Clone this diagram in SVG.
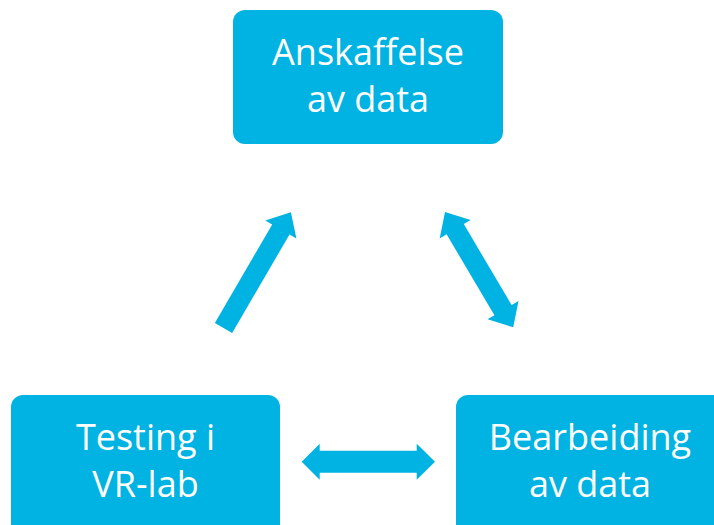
<svg xmlns="http://www.w3.org/2000/svg" width="714" height="525" viewBox="0 0 714 525">
<style>
.box{fill:#00B3E3;}
.arr{fill:#00B3E3;}
text{font-family:"Open Sans","Noto Sans","Liberation Sans",sans-serif;font-size:36px;fill:#ffffff;text-anchor:middle;}
</style>
<rect width="714" height="525" fill="#ffffff"/>
<g id="connectors">
<polygon class="arr" transform="translate(223.5,328) rotate(-59.8)" points="0,-10 114,-10 114,-18 134,0 114,18 114,10 0,10"/>
<polygon class="arr" transform="translate(445,212) rotate(59.4)" points="0,0 20,-18 20,-10 114,-10 114,-18 134,0 114,18 114,10 20,10 20,18"/>
<polygon class="arr" transform="translate(301.7,461.7)" points="0,0 18,-18 18,-11 115,-11 115,-18 133.3,0 115,18 115,11 18,11 18,18"/>
</g>
<g id="node-anskaffelse">
<rect class="box" x="233" y="10" width="270" height="134" rx="12"/>
<text x="368" y="65">Anskaffelse</text>
<text x="368" y="112">av data</text>
</g>
<g id="node-testing">
<rect class="box" x="11" y="395" width="269" height="150" rx="12"/>
<text x="145.5" y="450">Testing i</text>
<text x="145.5" y="497">VR-lab</text>
</g>
<g id="node-bearbeiding">
<rect class="box" x="456" y="395" width="270" height="150" rx="12"/>
<text x="590" y="450">Bearbeiding</text>
<text x="590" y="497">av data</text>
</g>
</svg>
